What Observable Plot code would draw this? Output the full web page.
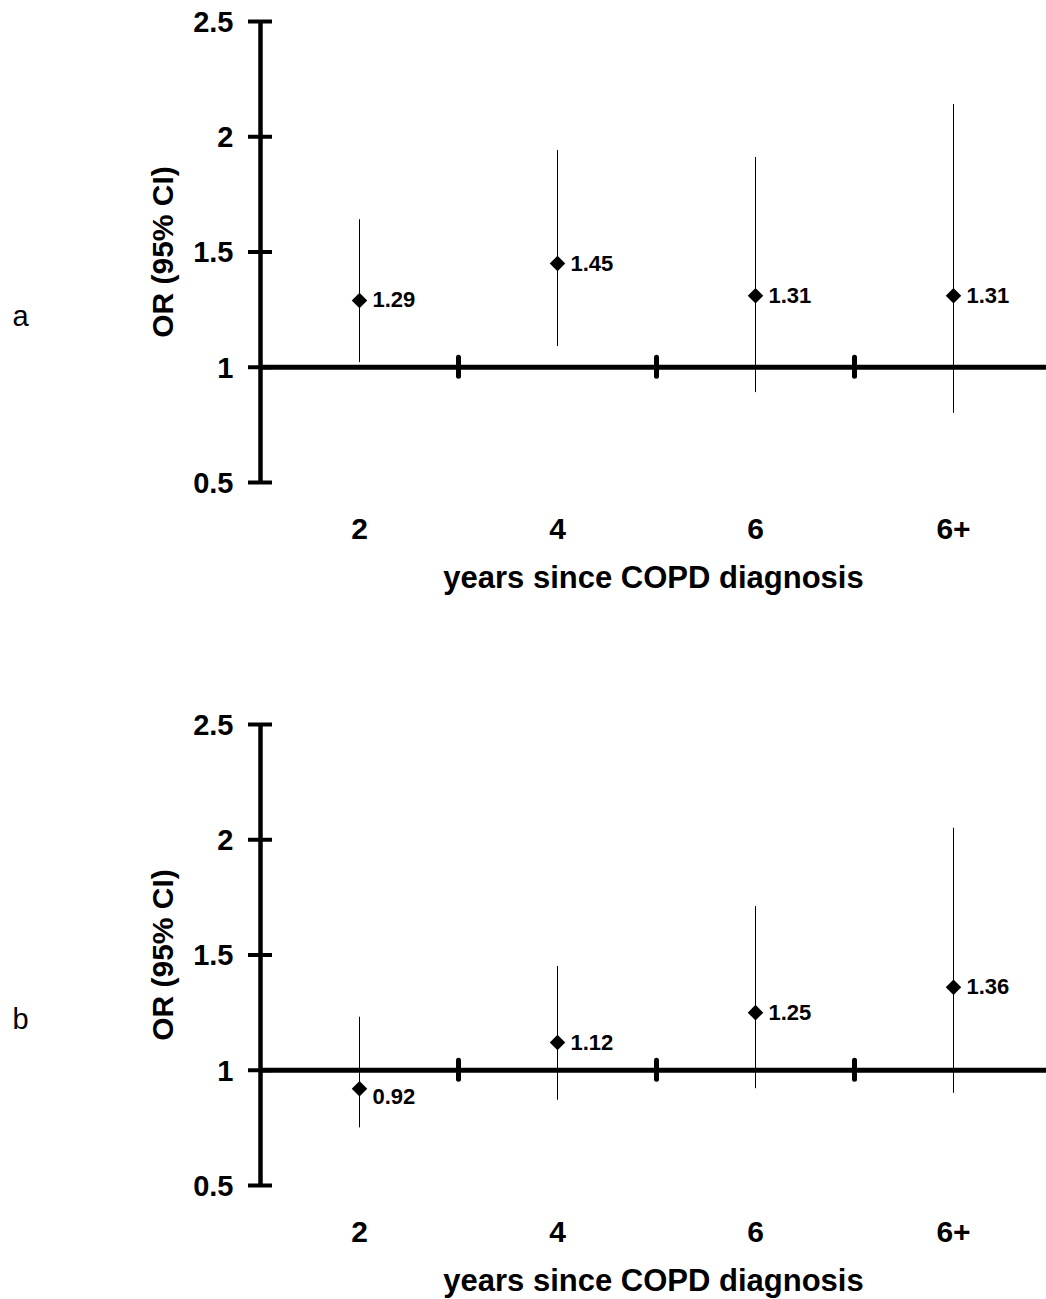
<!DOCTYPE html>
<html>
<head>
<meta charset="utf-8">
<script src="https://cdn.jsdelivr.net/npm/d3@7"></script>
<script src="https://cdn.jsdelivr.net/npm/@observablehq/plot@0.6"></script>
<style>
  body { margin: 0; background: #fff; }
  #chart svg { display: block; }
</style>
</head>
<body>
<div id="chart"></div>
<script>
// ---- data ----
const categories = ["2", "4", "6", "6+"];
const panelLabels = ["a", "b"];
const orA = [1.29, 1.45, 1.31, 1.31];
const loA = [1.02, 1.09, 0.89, 0.80];
const hiA = [1.64, 1.94, 1.91, 2.14];
const orB = [0.92, 1.12, 1.25, 1.36];
const loB = [0.75, 0.87, 0.92, 0.90];
const hiB = [1.23, 1.45, 1.71, 2.05];
const yTicks = [0.5, 1, 1.5, 2, 2.5];
const yDomain = [0.5, 2.5];
const refLine = 1;
const xTitle = "years since COPD diagnosis";
const yTitle = "OR (95% CI)";

// ---- layout ----
const FONT = '"Liberation Sans", Arial, Helvetica, sans-serif';
const W = 1046, LEFT = 260, RIGHT_END = 1052, TOP = 21, PLOT_BOTTOM = 482;
const bandW = (RIGHT_END - LEFT) / categories.length;

function panel(label, or, lo, hi, height) {
  const rows = categories.map((c, i) => ({cat: c, or: or[i], lo: lo[i], hi: hi[i]}));
  return Plot.plot({
    width: W,
    height,
    marginLeft: LEFT,
    marginRight: 0,
    marginTop: TOP,
    marginBottom: height - PLOT_BOTTOM,
    style: {fontFamily: FONT, background: "white", color: "black"},
    x: {type: "band", domain: categories, range: [LEFT, RIGHT_END], padding: 0, axis: null},
    y: {domain: yDomain, axis: null},
    marks: [
      // CI whiskers
      Plot.ruleX(rows, {x: "cat", y1: "lo", y2: "hi", stroke: "black", strokeWidth: 1}),
      // reference line at OR = 1 (acts as x axis)
      Plot.ruleY([refLine], {stroke: "black", strokeWidth: 5}),
      // category boundary ticks on the reference line
      Plot.ruleX(categories.slice(0, -1), {
        x: d => d, dx: bandW / 2, y1: refLine, y2: refLine,
        insetTop: -9.5, insetBottom: -9.5,
        stroke: "black", strokeWidth: 5, strokeLinecap: "round"
      }),
      // y axis line
      Plot.ruleX([categories[0]], {x: d => d, dx: -bandW / 2, stroke: "black", strokeWidth: 4.5}),
      // y axis ticks (crossing the axis line)
      Plot.axisY(yTicks, {tickSize: 24, dx: 12, strokeWidth: 4, fill: "none", label: null}),
      // y tick labels
      Plot.text(yTicks, {
        y: d => d, text: d => String(d), frameAnchor: "left", dx: -27, dy: 1,
        textAnchor: "end", fontSize: 29, fontWeight: "bold", fill: "black"
      }),
      // point estimates
      Plot.dot(rows, {x: "cat", y: "or", symbol: "diamond2", r: 7, fill: "black", stroke: "none"}),
      // value labels
      Plot.text(rows.filter(d => d.or >= refLine), {
        x: "cat", y: "or", text: d => d.or.toFixed(2), dx: 13,
        textAnchor: "start", fontSize: 22, fontWeight: "bold", fill: "black"
      }),
      Plot.text(rows.filter(d => d.or < refLine), {
        x: "cat", y: "or", text: d => d.or.toFixed(2), dx: 13, dy: 8,
        textAnchor: "start", fontSize: 22, fontWeight: "bold", fill: "black"
      }),
      // category labels
      Plot.text(categories, {
        x: d => d, frameAnchor: "bottom", dy: 56,
        fontSize: 30, fontWeight: "bold", fill: "black"
      }),
      // x title
      Plot.text([xTitle], {frameAnchor: "bottom", dy: 105, fontSize: 31, fontWeight: "bold", fill: "black"}),
      // y title
      Plot.text([yTitle], {
        frameAnchor: "left", rotate: -90, dx: -97, textAnchor: "middle",
        fontSize: 30, fontWeight: "bold", fill: "black"
      }),
      // panel letter
      Plot.text([label], {
        frameAnchor: "left", dx: -248, dy: 65, textAnchor: "start",
        fontSize: 29, fontWeight: "normal", fill: "black"
      })
    ]
  });
}

const root = document.getElementById("chart");
root.appendChild(panel(panelLabels[0], orA, loA, hiA, 703));
root.appendChild(panel(panelLabels[1], orB, loB, hiB, 596));
</script>
</body>
</html>
